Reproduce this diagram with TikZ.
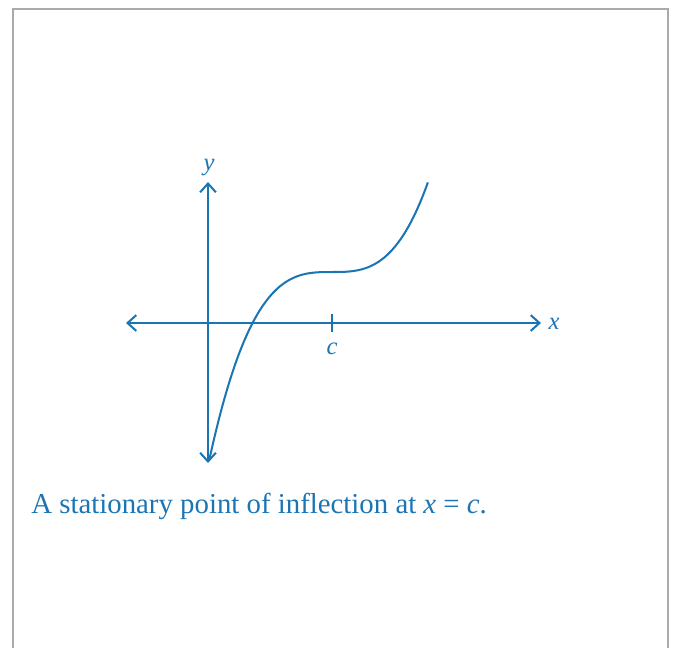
\documentclass[tikz,border=0pt]{standalone}
\usepackage{fontspec}
\setmainfont{Liberation Serif}
\usetikzlibrary{arrows.meta}
\definecolor{curveblue}{HTML}{1B75B3}
\definecolor{framegray}{HTML}{AAAAAA}

\begin{document}
\begin{tikzpicture}[x=0.02cm, y=-0.02cm,
  axis/.style={draw=curveblue, line width=1.15pt,
               {Straight Barb[length=5pt,width=9pt]}-{Straight Barb[length=5pt,width=9pt]}},
  graph/.style={draw=curveblue, line width=1.15pt},
  lbl/.style={text=curveblue, font=\itshape\fontsize{14}{16}\selectfont, inner sep=1pt}
]
% Frame, open at the bottom
\useasboundingbox (0,0) rectangle (676,647);
\draw[framegray, line width=1.2pt] (13,660) -- (13,9) -- (668,9) -- (668,660);

% Axes
\coordinate (xl) at (126,323);
\coordinate (xr) at (541,323);
\coordinate (yt) at (208,182);
\coordinate (yb) at (208,463);
\coordinate (c)  at (332,323);
\draw[axis] (xl) -- (xr);
\draw[axis] (yb) -- (yt);
\draw[graph] (c) ++(0,-9) -- ++(0,18);

\node[lbl] (ylab) at (209,168) {y};
\node[lbl] (xlab) at (554,324) {x};
\node[lbl] (clab) at (332,349) {c};

% Cubic with a flat inflection at x = c
\draw[graph] plot[domain=-1.225:0.96, samples=90, smooth]
  ({332+100*\x},{272-101.7*\x*\x*\x});

% Caption
\node[anchor=base west, text=curveblue, font=\fontsize{16.4}{19}\selectfont, inner sep=0pt]
  (caption) at (31,513) {A stationary point of inflection at \textit{x} = \textit{c}.};
\end{tikzpicture}
\end{document}
